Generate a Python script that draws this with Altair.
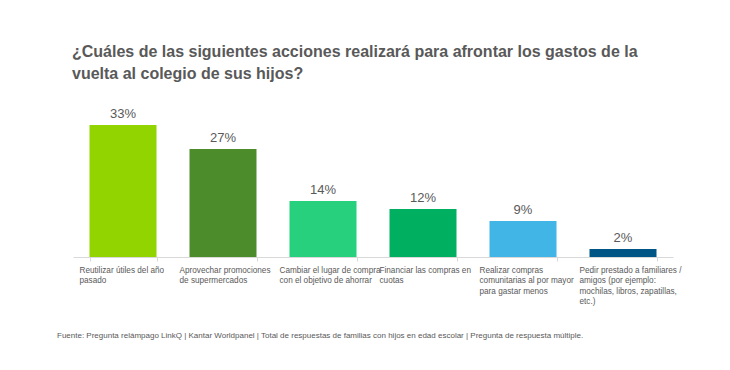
import altair as alt
import pandas as pd

categories = [
    "Reutilizar útiles del año|pasado",
    "Aprovechar promociones|de supermercados",
    "Cambiar el lugar de compra|con el objetivo de ahorrar",
    "Financiar las compras en|cuotas",
    "Realizar compras|comunitarias al por mayor|para gastar menos",
    "Pedir prestado a familiares /|amigos (por ejemplo:|mochilas, libros, zapatillas,|etc.)",
]
values = [33, 27, 14, 12, 9, 2]
labels = ["33%", "27%", "14%", "12%", "9%", "2%"]
colors = ["#92D400", "#4C8C2B", "#26D07C", "#00B060", "#41B6E6", "#005587"]

title_lines = [
    "¿Cuáles de las siguientes acciones realizará para afrontar los gastos de la",
    "vuelta al colegio de sus hijos?",
]
footer = ("Fuente: Pregunta relámpago LinkQ | Kantar Worldpanel | Total de respuestas de familias "
          "con hijos en edad escolar | Pregunta de respuesta múltiple.")

FONT = "Liberation Sans, Arial, Helvetica, sans-serif"
GRAY = "#595959"

df = pd.DataFrame({"cat": categories, "val": values, "lab": labels, "col": colors})

x = alt.X(
    "cat:N",
    sort=categories,
    scale=alt.Scale(paddingInner=0.33, paddingOuter=0.165),
    axis=alt.Axis(
        title=None,
        labelAngle=0,
        labelAlign="left",
        labelBaseline="top",
        labelOffset=-44,
        labelExpr="split(datum.label, '|')",
        labelFont=FONT,
        labelFontSize=8.2,
        labelColor=GRAY,
        labelLineHeight=10.5,
        labelPadding=5,
        labelLimit=200,
        domainColor="#D9D9D9",
        tickColor="#D9D9D9",
        tickBand="extent",
        tickSize=4,
        labelOverlap=False,
    ),
)
y = alt.Y("val:Q", scale=alt.Scale(domain=[0, 35]), axis=None)

bars = alt.Chart(df).mark_bar().encode(
    x=x, y=y, color=alt.Color("col:N", scale=None)
)
text = alt.Chart(df).mark_text(
    baseline="bottom", dy=-4, font=FONT, fontSize=13, color=GRAY
).encode(x=alt.X("cat:N", sort=categories), y=y, text="lab:N")

foot = alt.Chart(pd.DataFrame({"t": [footer]})).mark_text(
    align="left", baseline="alphabetic", font=FONT, fontSize=8, color=GRAY
).encode(x=alt.value(-16), y=alt.value(221), text="t:N")

chart = alt.layer(bars, text, foot).properties(
    width=600,
    height=140,
    autosize=alt.AutoSizeParams(type="none"),
    padding={"left": 65, "top": 109, "right": 40, "bottom": 100},
    title=alt.TitleParams(
        text=title_lines,
        anchor="start",
        frame="group",
        dx=-1,
        offset=26,
        font=FONT,
        fontSize=16,
        fontWeight="bold",
        color=GRAY,
        lineHeight=22,
    ),
).configure(background="white").configure_view(stroke=None, strokeWidth=0)

chart.save("out.html", embed_options={"renderer": "svg", "actions": False})
